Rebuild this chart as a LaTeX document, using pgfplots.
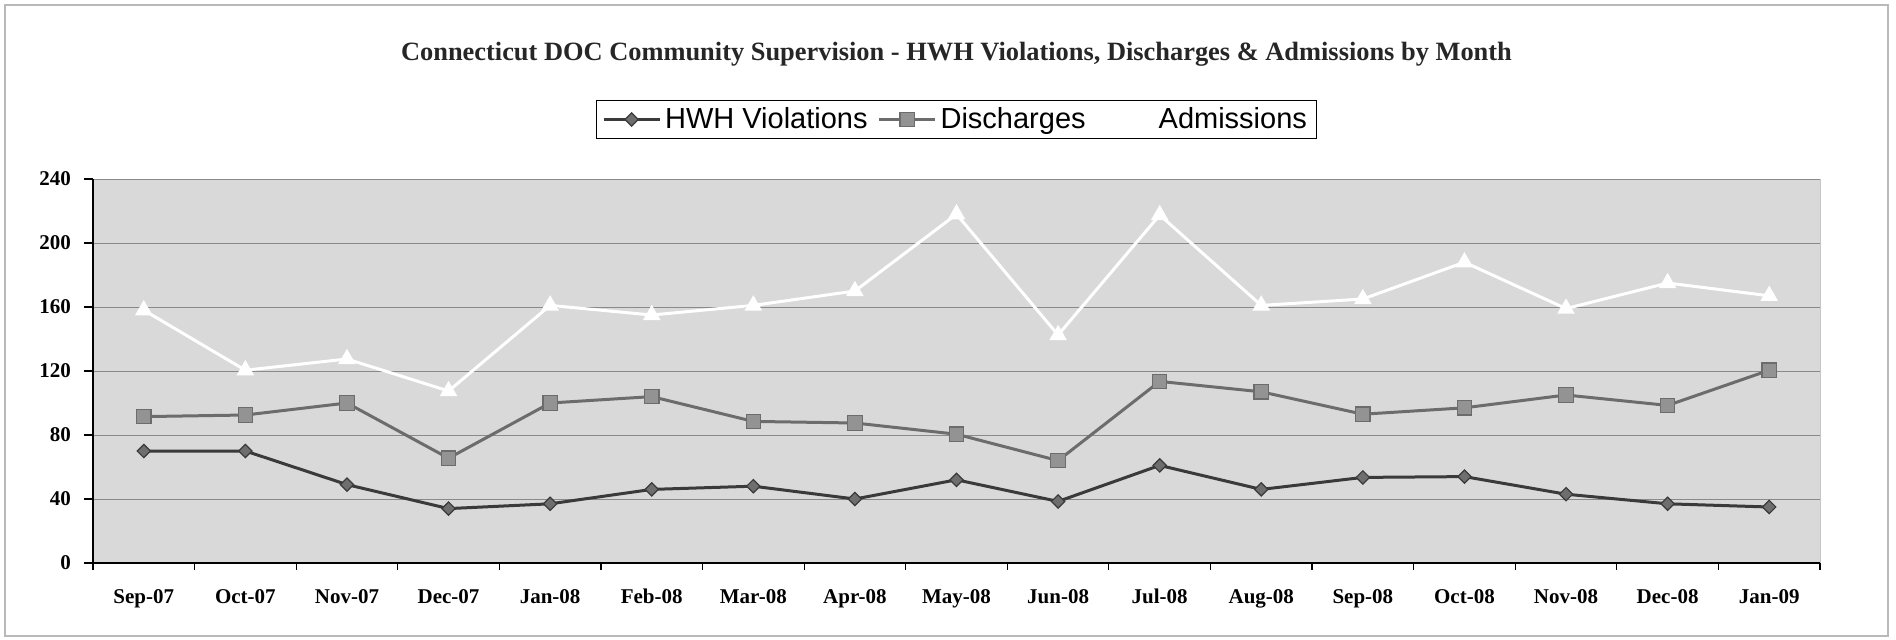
\documentclass[border=0pt]{standalone}
\usepackage{fontspec}
\setmainfont{Liberation Serif}
\newfontfamily\legfont{Liberation Sans}
\usepackage{pgfplots}
\pgfplotsset{compat=1.18}
\definecolor{bgc}{HTML}{D9D9D9}
\definecolor{gridc}{HTML}{8A8A8A}
\definecolor{hwhline}{HTML}{3A3A3A}
\definecolor{hwhfill}{HTML}{6E6E6E}
\definecolor{disline}{HTML}{6C6C6C}
\definecolor{disfill}{HTML}{939393}
\begin{document}
\begin{tikzpicture}
\path (-46.5pt,-38pt) rectangle (901.5pt,281.5pt);
\draw[gray!55, line width=0.8pt] (-44pt,-36.5pt) rectangle (897.5pt,279pt);
\begin{axis}[
  at={(0,0)}, anchor=south west,
  scale only axis, width=863.5pt, height=192pt,
  xmin=-0.5, xmax=16.5, ymin=0, ymax=240,
  axis lines*=left,
  axis line style={black, line width=0.8pt, -},
  axis background/.style={fill=bgc, draw=gray!45},
  ytick={0,40,...,240},
  xtick={0,...,16},
  xticklabels={Sep-07,Oct-07,Nov-07,Dec-07,Jan-08,Feb-08,Mar-08,Apr-08,May-08,Jun-08,Jul-08,Aug-08,Sep-08,Oct-08,Nov-08,Dec-08,Jan-09},
  minor xtick={-0.5,0.5,...,16.5},
  major x tick style={draw=none},
  minor x tick style={black, line width=0.6pt},
  y tick style={black, line width=0.6pt},
  tick align=outside,
  major tick length=4.5pt,
  minor tick length=3.5pt,
  ymajorgrids,
  major grid style={gridc, line width=0.5pt},
  /pgf/number format/assume math mode=true,
  ticklabel style={font=\fontsize{10.5}{12}\selectfont\bfseries},
  yticklabel style={xshift=-3pt},
  xticklabel style={yshift=-5pt},
  title={Connecticut DOC Community Supervision - HWH Violations, Discharges \& Admissions by Month},
  title style={at={(0.5,1)}, anchor=center, yshift=56.5pt, font=\fontsize{13.2}{15}\selectfont\bfseries, text=black!85},
  legend columns=3,
  legend style={at={(0.5,1)}, anchor=south, yshift=20pt, draw=black, fill=white, line width=0.5pt,
    font=\legfont\fontsize{14.5}{16}\selectfont, inner xsep=3pt, inner ysep=1.5pt,
    /tikz/every even column/.append style={column sep=3pt}},
  legend image code/.code={
    \draw[mark repeat=2, mark phase=2, #1] plot coordinates {(0pt,0pt) (14pt,0pt) (28pt,0pt)};
  },
]
\addplot[hwhline, line width=1.5pt, mark=square*, mark size=2.35pt,
  mark options={rotate=45, fill=hwhfill, draw=hwhline, line width=0.6pt}]
  coordinates {(0,70) (1,70) (2,49) (3,34) (4,37) (5,46) (6,48) (7,40) (8,52) (9,38.5) (10,61) (11,46) (12,53.5) (13,54) (14,43) (15,37) (16,35)};
\addlegendentry{HWH Violations}
\addplot[disline, line width=1.5pt, mark=square*, mark size=3.6pt,
  mark options={fill=disfill, draw=disline, line width=0.6pt}]
  coordinates {(0,91.5) (1,92.5) (2,100) (3,65.5) (4,100) (5,104) (6,88.5) (7,87.5) (8,80.5) (9,64) (10,113.5) (11,107) (12,93) (13,97) (14,105) (15,98.5) (16,120.5)};
\addlegendentry{Discharges}
\addplot[white, line width=1.5pt, mark=triangle*, mark size=3.6pt,
  mark options={fill=white, draw=white}]
  coordinates {(0,158) (1,120.5) (2,127.5) (3,107.5) (4,161) (5,155) (6,161) (7,170) (8,218) (9,142.5) (10,217.5) (11,161) (12,165) (13,188) (14,159) (15,175) (16,167)};
\addlegendentry{Admissions}
\end{axis}
\end{tikzpicture}
\end{document}
